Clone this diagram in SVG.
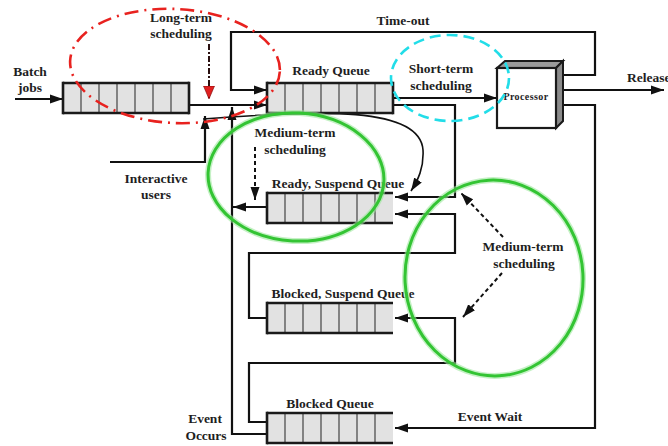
<svg xmlns="http://www.w3.org/2000/svg" width="668" height="446" viewBox="0 0 668 446">
  <style>
    .lbl { font-family: "Liberation Serif", "Times New Roman", serif; font-weight: bold; font-size: 13.5px; fill: #1e1e1e; text-anchor: middle; }
    .small { font-size: 10px; letter-spacing: 0.4px; }
    .wire { fill: none; stroke: #111; stroke-width: 2.2; }
    .thin { fill: none; stroke: #111; stroke-width: 1.6; }
    .dash { fill: none; stroke: #111; stroke-width: 2; stroke-dasharray: 4 3; }
    .qfill { fill: #e2e2e2; }
    .qedge { stroke: #1a1a1a; stroke-width: 2.6; }
    .cell { stroke: #444; stroke-width: 1.2; }
    .halo { fill: none; stroke: #9ee89e; stroke-width: 6; opacity: 0.6; }
    .green { fill: none; stroke: #33c433; stroke-width: 3; }
  </style>
  <defs>
    <marker id="arr" markerUnits="userSpaceOnUse" markerWidth="14" markerHeight="10" refX="13" refY="5" orient="auto">
      <path d="M0,0.5 L13,5 L0,9.5 z" fill="#111"/>
    </marker>
    <marker id="arr-red" markerUnits="userSpaceOnUse" markerWidth="14" markerHeight="12" refX="13" refY="6" orient="auto">
      <path d="M0,0.5 L13,6 L0,11.5 z" fill="#e02020" stroke="#700" stroke-width="0.6"/>
    </marker>
    <!-- seven-cell queue body, open on the right -->
    <g id="queue">
      <rect class="qfill" x="0" y="0" width="126" height="30"/>
      <line class="cell" x1="18" y1="0" x2="18" y2="30"/>
      <line class="cell" x1="36" y1="0" x2="36" y2="30"/>
      <line class="cell" x1="54" y1="0" x2="54" y2="30"/>
      <line class="cell" x1="72" y1="0" x2="72" y2="30"/>
      <line class="cell" x1="90" y1="0" x2="90" y2="30"/>
      <line class="cell" x1="108" y1="0" x2="108" y2="30"/>
      <line class="qedge" x1="0" y1="0" x2="126" y2="0"/>
      <line class="qedge" x1="0" y1="30" x2="126" y2="30"/>
      <line class="qedge" x1="0" y1="-1.3" x2="0" y2="31.3"/>
    </g>
  </defs>

  <rect width="668" height="446" fill="#fff"/>

  <!-- connectors -->
  <g id="connectors">
    <path class="wire" d="M15,99 H63" marker-end="url(#arr)"/>
    <path class="wire" d="M190,105 H267" marker-end="url(#arr)"/>
    <path class="wire" d="M560,75 H595 V32 H231 V90 H267" marker-end="url(#arr)"/>
    <path class="wire" d="M393,98 H497" marker-end="url(#arr)"/>
    <path class="wire" d="M560,90 H664" marker-end="url(#arr)"/>
    <path class="wire" d="M560,105 H595 V428 H395" marker-end="url(#arr)"/>
    <path class="wire" d="M393,105 H455 V197 H395" marker-end="url(#arr)"/>
    <path class="wire" d="M267,318 H249 V253 H455 V214 H395" marker-end="url(#arr)"/>
    <path class="wire" d="M267,422 H249 V363 H455 V318 H395" marker-end="url(#arr)"/>
    <path class="wire" d="M267,434 H232 V107" marker-end="url(#arr)"/>
    <path class="wire" d="M267,207 H233" marker-end="url(#arr)"/>
    <path class="wire" d="M110,162 H205 V116" marker-end="url(#arr)"/>
    <path class="thin" d="M203,119 C320,110 420,106 423,150 C424,168 418,180 411,191" marker-end="url(#arr)"/>
    <!-- scheduler pointers -->
    <path d="M209,44 V99" fill="none" stroke="#2a1010" stroke-width="2" stroke-dasharray="6 2 2 2" marker-end="url(#arr-red)"/>
    <path class="dash" d="M255,147 V200" marker-end="url(#arr)"/>
    <path class="dash" d="M503,237 L461,193" marker-end="url(#arr)"/>
    <path class="dash" d="M502,273 L463,317" marker-end="url(#arr)"/>
  </g>

  <!-- queues -->
  <g id="batch-queue">
    <use href="#queue" x="63" y="83"/>
    <line class="qedge" x1="189" y1="81.7" x2="189" y2="114.3"/>
    <text class="lbl" x="30" y="76">Batch</text>
    <text class="lbl" x="30" y="92">jobs</text>
  </g>
  <g id="ready-queue">
    <use href="#queue" x="267" y="83"/>
    <line class="qedge" x1="393" y1="81.7" x2="393" y2="114.3"/>
    <text class="lbl" x="331" y="75">Ready Queue</text>
  </g>
  <g id="ready-suspend-queue">
    <use href="#queue" x="267" y="193"/>
    <text class="lbl" x="338" y="188">Ready, Suspend Queue</text>
  </g>
  <g id="blocked-suspend-queue">
    <use href="#queue" x="267" y="303"/>
    <text class="lbl" x="343" y="298">Blocked, Suspend Queue</text>
  </g>
  <g id="blocked-queue">
    <use href="#queue" x="267" y="413"/>
    <text class="lbl" x="330" y="408">Blocked Queue</text>
  </g>

  <!-- processor block -->
  <g id="processor">
    <path d="M497,68 L505,61 L563,61 L556,68 z" fill="#9a9a9a" stroke="#1a1a1a" stroke-width="2"/>
    <path d="M556,68 L563,61 L563,121 L556,128 z" fill="#8a8a8a" stroke="#1a1a1a" stroke-width="2"/>
    <rect x="497" y="68" width="59" height="60" fill="#fff" stroke="#1a1a1a" stroke-width="2.2"/>
    <text class="lbl small" x="526" y="100">Processor</text>
  </g>

  <!-- edge labels -->
  <g id="labels">
    <text class="lbl" x="403" y="25">Time-out</text>
    <text class="lbl" x="627" y="82" style="text-anchor:start">Release</text>
    <text class="lbl" x="156" y="183">Interactive</text>
    <text class="lbl" x="156" y="199">users</text>
    <text class="lbl" x="490" y="421">Event Wait</text>
    <text class="lbl" x="205" y="423">Event</text>
    <text class="lbl" x="206" y="440">Occurs</text>
  </g>

  <!-- scheduling regions -->
  <g id="long-term">
    <ellipse cx="175" cy="66" rx="105" ry="57" transform="rotate(3 175 66)" fill="none" stroke="#e8221f" stroke-width="2.6" stroke-dasharray="14 6 2 6"/>
    <text class="lbl" x="181" y="22">Long-term</text>
    <text class="lbl" x="181" y="38">scheduling</text>
  </g>
  <g id="short-term">
    <ellipse cx="450" cy="78" rx="59" ry="43" fill="none" stroke="#22dde8" stroke-width="2.6" stroke-dasharray="11 6"/>
    <text class="lbl" x="441" y="73">Short-term</text>
    <text class="lbl" x="441" y="90">scheduling</text>
  </g>
  <g id="medium-term-upper">
    <ellipse class="halo" cx="296" cy="177" rx="88" ry="64" transform="rotate(3 296 177)"/>
    <ellipse class="green" cx="296" cy="177" rx="88" ry="64" transform="rotate(3 296 177)"/>
    <text class="lbl" x="295" y="137">Medium-term</text>
    <text class="lbl" x="295" y="154">scheduling</text>
  </g>
  <g id="medium-term-lower">
    <ellipse class="halo" cx="494" cy="278" rx="89" ry="98" transform="rotate(-3 494 278)"/>
    <ellipse class="green" cx="494" cy="278" rx="89" ry="98" transform="rotate(-3 494 278)"/>
    <text class="lbl" x="523" y="251">Medium-term</text>
    <text class="lbl" x="524" y="268">scheduling</text>
  </g>
</svg>
